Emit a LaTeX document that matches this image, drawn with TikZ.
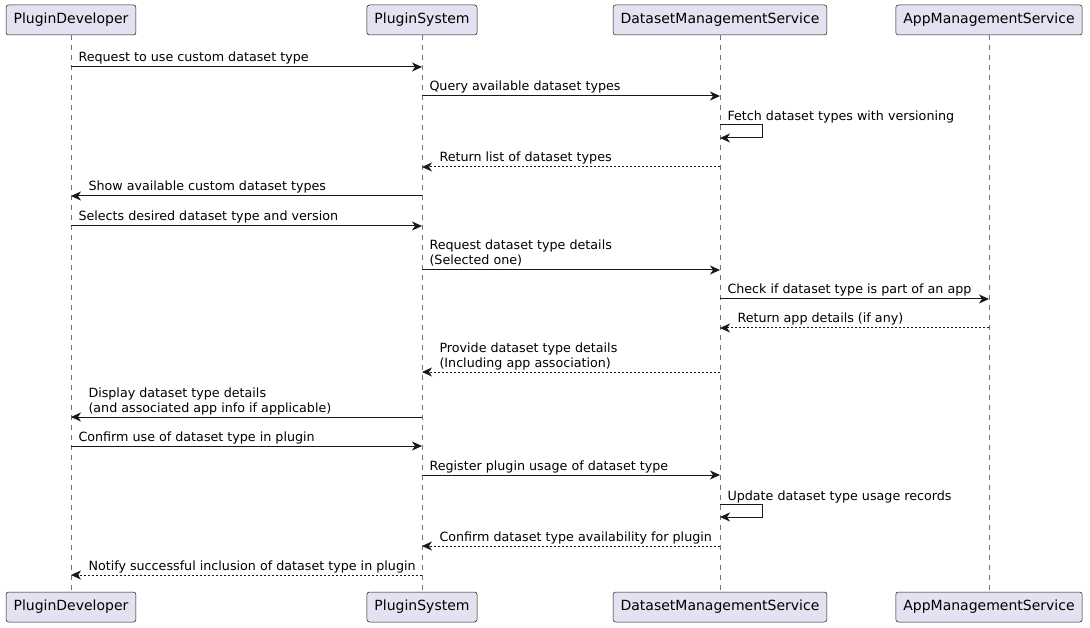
\documentclass[tikz,border=0pt]{standalone}
\usepackage{fontspec}
\setmainfont{DejaVu Sans}
\usetikzlibrary{arrows.meta}
\definecolor{partfill}{HTML}{E2E2F0}
\definecolor{umlline}{HTML}{181818}

\begin{document}
\begin{tikzpicture}[x=1pt, y=-1pt,
	part/.style={draw=umlline, fill=partfill, rounded corners=2.5pt, line width=0.5pt, minimum height=30pt, inner xsep=7.5pt, font=\fontsize{14}{16}\selectfont},
	life/.style={draw=umlline!60, line width=0.5pt, dash pattern=on 5pt off 5pt},
	msg/.style={draw=umlline, line width=1pt, -{Stealth[length=10pt, width=9pt, inset=3pt]}},
	reply/.style={msg, dash pattern=on 2pt off 2pt},
	lbl/.style={anchor=south west, inner sep=0pt, text depth=3pt, align=left, font=\fontsize{12.7}{15}\selectfont}]

	\useasboundingbox (0,0) rectangle (1090,628);

	\coordinate (pd) at (71, 0);
	\coordinate (ps) at (422, 0);
	\coordinate (dm) at (720, 0);
	\coordinate (am) at (989, 0);

	\node [part] (pdtop) at (pd |- 0,20) {PluginDeveloper};
	\node [part] (pstop) at (ps |- 0,20) {PluginSystem};
	\node [part] (dmtop) at (dm |- 0,20) {DatasetManagementService};
	\node [part] (amtop) at (am |- 0,20) {AppManagementService};
	\node [part] (pdbot) at (pd |- 0,607) {PluginDeveloper};
	\node [part] (psbot) at (ps |- 0,607) {PluginSystem};
	\node [part] (dmbot) at (dm |- 0,607) {DatasetManagementService};
	\node [part] (ambot) at (am |- 0,607) {AppManagementService};

	\draw [life] (pdtop) -- (pdbot);
	\draw [life] (pstop) -- (psbot);
	\draw [life] (dmtop) -- (dmbot);
	\draw [life] (amtop) -- (ambot);

	% choosing a dataset type
	\draw [msg] (pd |- 0,67) -- (ps |- 0,67) node [lbl, at start, xshift=7pt, yshift=1.5pt] {Request to use custom dataset type};
	\draw [msg] (ps |- 0,96) -- (dm |- 0,96) node [lbl, at start, xshift=7pt, yshift=1.5pt] {Query available dataset types};
	\draw [msg] (dm |- 0,125) node [lbl, xshift=7pt, yshift=0.5pt] {Fetch dataset types with versioning} -- ++(42,0) -- ++(0,13) -- (dm |- 0,138);
	\draw [reply] (dm |- 0,167) -- (ps |- 0,167) node [lbl, at end, xshift=17pt, yshift=1.5pt] {Return list of dataset types};
	\draw [msg] (ps |- 0,196) -- (pd |- 0,196) node [lbl, at end, xshift=17pt, yshift=1.5pt] {Show available custom dataset types};
	\draw [msg] (pd |- 0,226) -- (ps |- 0,226) node [lbl, at start, xshift=7pt, yshift=1.5pt] {Selects desired dataset type and version};

	% details and app association
	\draw [msg] (ps |- 0,270) -- (dm |- 0,270) node [lbl, at start, xshift=7pt, yshift=1.5pt] {Request dataset type details\\(Selected one)};
	\draw [msg] (dm |- 0,299) -- (am |- 0,299) node [lbl, at start, xshift=7pt, yshift=1.5pt] {Check if dataset type is part of an app};
	\draw [reply] (am |- 0,328) -- (dm |- 0,328) node [lbl, at end, xshift=17pt, yshift=1.5pt] {Return app details (if any)};
	\draw [reply] (dm |- 0,372) -- (ps |- 0,372) node [lbl, at end, xshift=17pt, yshift=1.5pt] {Provide dataset type details\\(Including app association)};
	\draw [msg] (ps |- 0,417) -- (pd |- 0,417) node [lbl, at end, xshift=17pt, yshift=1.5pt] {Display dataset type details\\(and associated app info if applicable)};

	% registering the usage
	\draw [msg] (pd |- 0,446) -- (ps |- 0,446) node [lbl, at start, xshift=7pt, yshift=1.5pt] {Confirm use of dataset type in plugin};
	\draw [msg] (ps |- 0,475) -- (dm |- 0,475) node [lbl, at start, xshift=7pt, yshift=1.5pt] {Register plugin usage of dataset type};
	\draw [msg] (dm |- 0,504) node [lbl, xshift=7pt, yshift=0.5pt] {Update dataset type usage records} -- ++(42,0) -- ++(0,13) -- (dm |- 0,517);
	\draw [reply] (dm |- 0,546) -- (ps |- 0,546) node [lbl, at end, xshift=17pt, yshift=1.5pt] {Confirm dataset type availability for plugin};
	\draw [reply] (ps |- 0,575) -- (pd |- 0,575) node [lbl, at end, xshift=17pt, yshift=1.5pt] {Notify successful inclusion of dataset type in plugin};
\end{tikzpicture}
\end{document}
